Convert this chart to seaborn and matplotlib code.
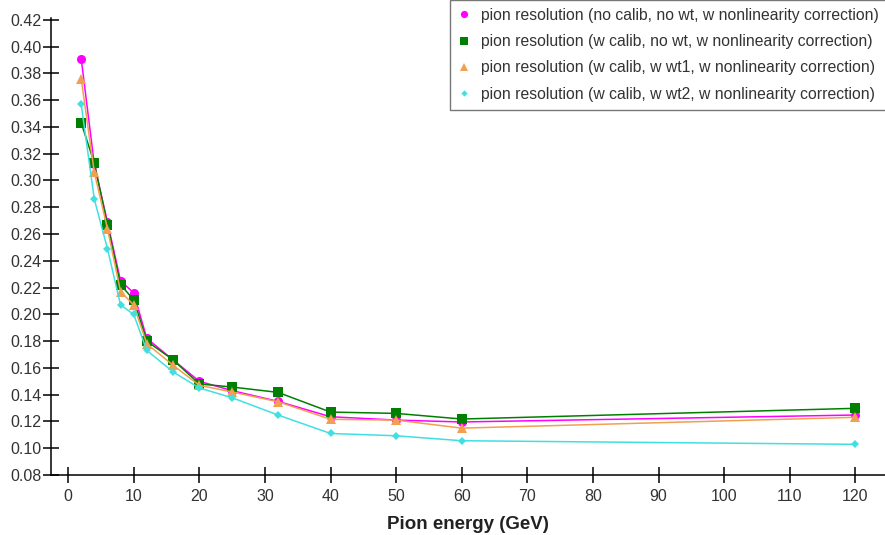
import numpy as np
import pandas as pd
import matplotlib
matplotlib.use("Agg")
import matplotlib.pyplot as plt
import seaborn as sns

energy = [2, 4, 6, 8, 10, 12, 16, 20, 25, 32, 40, 50, 60, 120]
res_nocalib_nowt = [0.391, 0.312, 0.269, 0.225, 0.216, 0.182, 0.166, 0.150, 0.143, 0.135, 0.1235, 0.121, 0.1196, 0.1248]
res_calib_nowt = [0.343, 0.313, 0.267, 0.222, 0.211, 0.180, 0.166, 0.148, 0.1457, 0.1417, 0.127, 0.126, 0.1218, 0.1298]
res_calib_wt1 = [0.376, 0.306, 0.264, 0.217, 0.207, 0.178, 0.162, 0.147, 0.142, 0.1347, 0.1216, 0.121, 0.115, 0.1231]
res_calib_wt2 = [0.357, 0.286, 0.249, 0.207, 0.200, 0.173, 0.157, 0.145, 0.1377, 0.1248, 0.111, 0.1093, 0.1056, 0.1029]
series_names = [
    "pion resolution (no calib, no wt, w nonlinearity correction)",
    "pion resolution (w calib, no wt, w nonlinearity correction)",
    "pion resolution (w calib, w wt1, w nonlinearity correction)",
    "pion resolution (w calib, w wt2, w nonlinearity correction)",
]
y_ticks = [0.08, 0.10, 0.12, 0.14, 0.16, 0.18, 0.20, 0.22, 0.24, 0.26, 0.28,
           0.30, 0.32, 0.34, 0.36, 0.38, 0.40, 0.42]
x_ticks = [0, 10, 20, 30, 40, 50, 60, 70, 80, 90, 100, 110, 120]

frames = []
for name, vals in zip(series_names, [res_nocalib_nowt, res_calib_nowt, res_calib_wt1, res_calib_wt2]):
    frames.append(pd.DataFrame({"energy": energy, "res": vals, "series": name}))
df = pd.concat(frames, ignore_index=True)

sns.set_style("ticks")
plt.rcParams['font.family'] = ['Liberation Sans', 'DejaVu Sans']

W, H = 885, 535
fig = plt.figure(figsize=(W / 100, H / 100), dpi=100)
ax_top = 18
ax = fig.add_axes([51 / W, 60 / H, (W - 51) / W, (H - 60 - ax_top) / H])

colors = ["#ff00ff", "#008000", "#f0a050", "#40e0e0"]
markers = ["o", "s", "^", "D"]
sizes = [6.5, 6.5, 6.5, 4]
for name, c, m, s in zip(series_names, colors, markers, sizes):
    sub = df[df["series"] == name]
    sns.lineplot(data=sub, x="energy", y="res", ax=ax, color=c, marker=m,
                 markersize=s, markeredgewidth=0, linewidth=1.1, label=name)

ax.set_xlim(-2.6, 124.5)
ax.set_ylim(0.08, 0.4213)
ax.set_xticks(x_ticks)
ax.set_yticks(y_ticks)
ax.set_yticklabels([f"{v:.2f}" for v in y_ticks])
ax.tick_params(axis="both", direction="inout", length=12, width=1.1, labelsize=11.5,
               colors="black", labelcolor="#333333", bottom=True, left=True)
ax.tick_params(axis="x", pad=4)
ax.tick_params(axis="y", pad=1)
for sp in ["top", "right"]:
    ax.spines[sp].set_visible(False)
for sp in ["left", "bottom"]:
    ax.spines[sp].set_color("black")
    ax.spines[sp].set_linewidth(1.1)
ax.set_xlabel("Pion energy (GeV)", fontsize=13.5, fontweight="bold", color="#222222", labelpad=9)
ax.set_ylabel("")

leg = ax.legend(loc="upper right", bbox_to_anchor=(887 / W, 1.0), bbox_transform=fig.transFigure,
                fontsize=11.3, frameon=True, fancybox=False, edgecolor="#555555", handlelength=0.8,
                handletextpad=0.7, borderpad=0.5, labelspacing=0.72, markerscale=0.8,
                borderaxespad=0.0)
for line in leg.get_lines():
    line.set_linestyle("none")
leg.get_frame().set_linewidth(1.0)
for t in leg.get_texts():
    t.set_color("#333333")

fig.savefig("out.png", dpi=100)
